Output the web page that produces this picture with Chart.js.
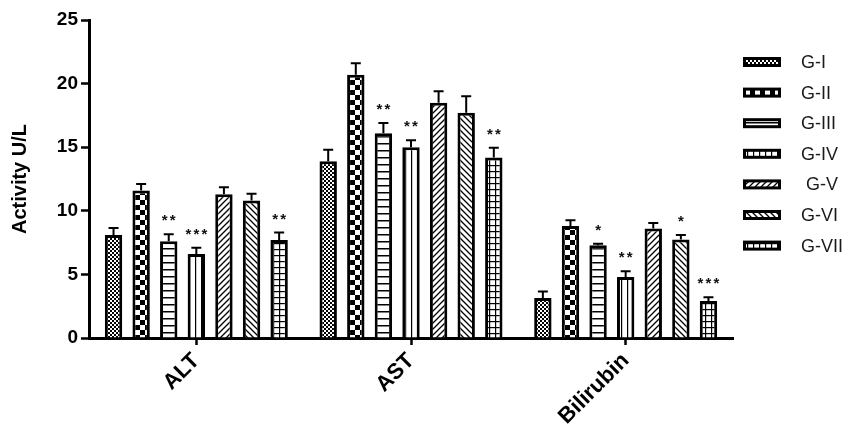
<!DOCTYPE html>
<html>
<head>
<meta charset="utf-8">
<script src="https://cdn.jsdelivr.net/npm/chart.js@4"></script>
<style>
  html, body { margin: 0; padding: 0; background: #fff; }
  #wrap { width: 848px; height: 426px; }
</style>
</head>
<body>
<div id="wrap"><canvas id="chart" width="848" height="426"></canvas></div>
<script>
// categories on the x axis
const categories = ["ALT", "AST", "Bilirubin"];
const groups = ["G-I", "G-II", "G-III", "G-IV", " G-V", "G-VI", "G-VII"];

// mean values per group: [ALT, AST, Bilirubin]
const gI = [8.1, 13.9, 3.15];
const gII = [11.6, 20.7, 8.8];
const gIII = [7.6, 16.1, 7.3];
const gIV = [6.6, 15.0, 4.8];
const gV = [11.3, 18.5, 8.6];
const gVI = [10.8, 17.7, 7.75];
const gVII = [7.7, 14.2, 2.9];

// error (upper) per group
const errI = [0.55, 0.9, 0.5];
const errII = [0.5, 0.9, 0.45];
const errIII = [0.55, 0.8, 0.1];
const errIV = [0.5, 0.55, 0.45];
const errV = [0.55, 0.9, 0.45];
const errVI = [0.55, 1.3, 0.35];
const errVII = [0.6, 0.75, 0.3];

// significance marks
const starsI = ["", "", ""];
const starsII = ["", "", ""];
const starsIII = ["**", "**", "*"];
const starsIV = ["***", "**", "**"];
const starsV = ["", "", ""];
const starsVI = ["", "", "*"];
const starsVII = ["**", "**", "***"];

const yTicks = [0, 5, 10, 15, 20, 25];

const values = [gI, gII, gIII, gIV, gV, gVI, gVII];
const errors = [errI, errII, errIII, errIV, errV, errVI, errVII];
const stars = [starsI, starsII, starsIII, starsIV, starsV, starsVI, starsVII];

//patterns for the black & white fills
function makePattern(size, draw) {
  const c = document.createElement("canvas");
  c.width = size;
  c.height = size;
  const g = c.getContext("2d");
  g.fillStyle = "#fff";
  g.fillRect(0, 0, size, size);
  g.fillStyle = "#000";
  g.strokeStyle = "#000";
  draw(g, size);
  return g.createPattern(c, "repeat");
}

const ctx = document.getElementById("chart").getContext("2d");

const patterns = [
  makePattern(4, (g) => { g.fillRect(0, 0, 2, 2); g.fillRect(2, 2, 2, 2); }),
  makePattern(10, (g) => { g.fillRect(0, 0, 5, 5); g.fillRect(5, 5, 5, 5); }),
  makePattern(7, (g) => { g.fillRect(0, 3, 7, 1.5); }),
  makePattern(6, (g) => { g.fillRect(3, 0, 1.2, 6); }),
  makePattern(6, (g) => {
    g.lineWidth = 1.3;
    g.beginPath();
    g.moveTo(-1, 7); g.lineTo(7, -1);
    g.moveTo(-1, 1); g.lineTo(1, -1);
    g.moveTo(5, 7); g.lineTo(7, 5);
    g.stroke();
  }),
  makePattern(6, (g) => {
    g.lineWidth = 1.3;
    g.beginPath();
    g.moveTo(-1, -1); g.lineTo(7, 7);
    g.moveTo(5, -1); g.lineTo(7, 1);
    g.moveTo(-1, 5); g.lineTo(1, 7);
    g.stroke();
  }),
  makePattern(6, (g) => { g.fillRect(0, 3, 6, 1.2); g.fillRect(3, 0, 1.2, 6); }),
];

const datasets = groups.map((name, i) => ({
  label: name,
  data: values[i],
  errors: errors[i],
  stars: stars[i],
  backgroundColor: patterns[i],
  borderColor: "#000",
  borderWidth: 3,
  categoryPercentage: 0.9,
  barPercentage: 0.63,
}));

// error bars + stars on top of each bar
const errorBars = {
  id: "errorBars",
  afterDatasetsDraw(chart) {
    const c = chart.ctx;
    const y = chart.scales.y;
    c.save();
    c.strokeStyle = "#000";
    c.fillStyle = "#111";
    c.lineWidth = 2;
    chart.data.datasets.forEach((ds, i) => {
      chart.getDatasetMeta(i).data.forEach((bar, j) => {
        const top = y.getPixelForValue(ds.data[j]);
        const cap = y.getPixelForValue(ds.data[j] + ds.errors[j]);
        c.beginPath();
        c.moveTo(bar.x, top);
        c.lineTo(bar.x, cap);
        c.moveTo(bar.x - 5, cap);
        c.lineTo(bar.x + 5, cap);
        c.stroke();
        const s = ds.stars[j];
        if (s) {
          c.font = "bold 15px 'Liberation Sans', Arial";
          c.textAlign = "center";
          c.textBaseline = "middle";
          const step = 8;
          for (let k = 0; k < s.length; k++) {
            c.fillText("*", bar.x + (k - (s.length - 1) / 2) * step, cap - 13);
          }
        }
      });
    });
    c.restore();
  },
};

// legend drawn on the right with pattern swatches
const sideLegend = {
  id: "sideLegend",
  afterDraw(chart) {
    const c = chart.ctx;
    c.save();
    chart.data.datasets.forEach((ds, i) => {
      const yc = 62 + i * 30.6;
      c.fillStyle = ds.backgroundColor;
      c.fillRect(743, yc - 4, 38, 8);
      c.strokeStyle = "#000";
      c.lineWidth = 3;
      c.strokeRect(744.5, yc - 3.5, 35, 7);
      c.fillStyle = "#1a1a1a";
      c.font = "18px 'Liberation Sans', Arial";
      c.textAlign = "left";
      c.textBaseline = "middle";
      c.fillText(ds.label, 801, yc + 1);
    });
    c.restore();
  },
};

new Chart(ctx, {
  type: "bar",
  data: { labels: categories, datasets: datasets },
  plugins: [errorBars, sideLegend],
  options: {
    responsive: false,
    animation: false,
    layout: { padding: { left: 8, right: 115, top: 20, bottom: 0 } },
    plugins: {
      legend: { display: false },
      tooltip: { enabled: false },
    },
    scales: {
      x: {
        grid: {
          offset: false,
          drawOnChartArea: false,
          drawTicks: true,
          tickLength: 7,
          tickColor: "#000",
          tickWidth: 2.5,
        },
        border: { color: "#000", width: 3 },
        ticks: {
          color: "#000",
          maxRotation: 45,
          minRotation: 45,
          padding: 3,
          font: { family: "'Liberation Sans', Arial", weight: "bold", size: 22 },
        },
        afterFit(s) { s.height = 88; },
      },
      y: {
        min: 0,
        max: 25,
        afterBuildTicks(s) { s.ticks = yTicks.map((v) => ({ value: v })); },
        grid: {
          drawOnChartArea: false,
          drawTicks: true,
          tickLength: 8,
          tickColor: "#000",
          tickWidth: 2.5,
        },
        border: { color: "#000", width: 3 },
        ticks: {
          color: "#000",
          padding: 3,
          font: { family: "'Liberation Sans', Arial", weight: "bold", size: 19 },
        },
        title: {
          display: true,
          text: "Activity U/L",
          color: "#000",
          padding: { top: 0, bottom: 4 },
          font: { family: "'Liberation Sans', Arial", weight: "bold", size: 20 },
        },
        afterFit(s) { s.width = 81; },
      },
    },
  },
});
</script>
</body>
</html>
